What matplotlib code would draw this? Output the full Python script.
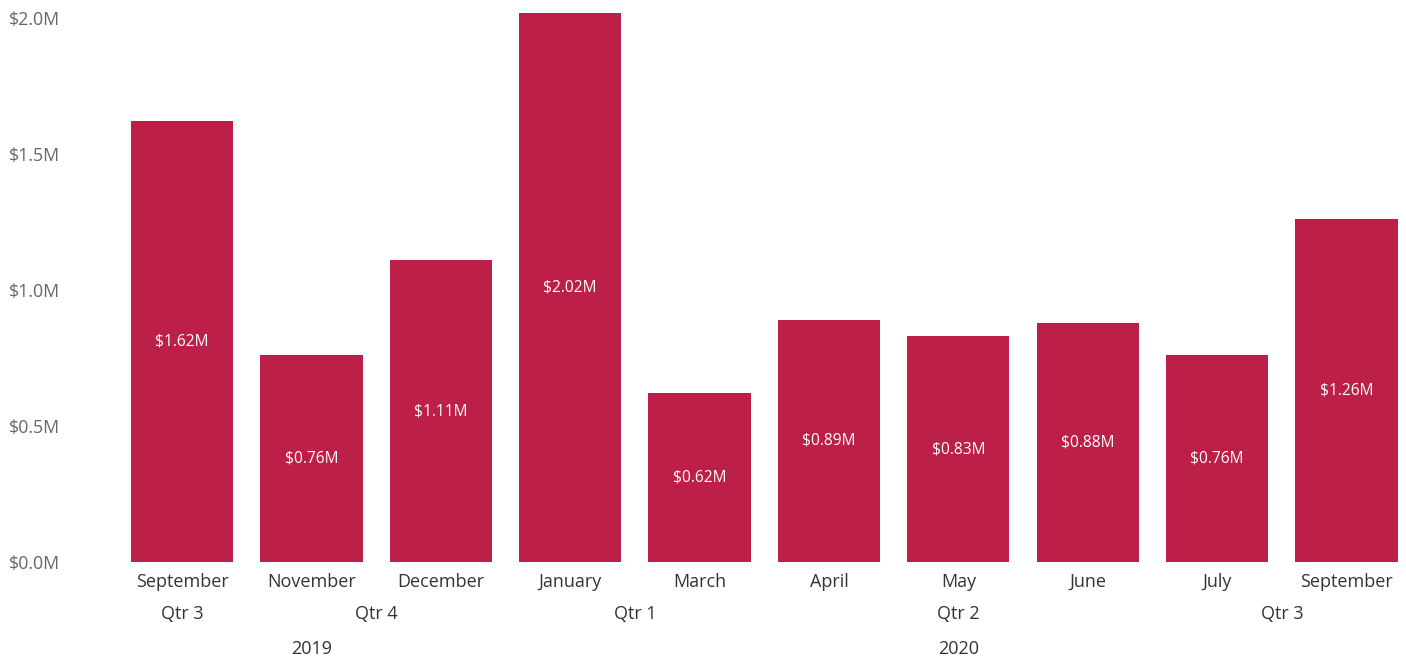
import matplotlib
matplotlib.use("Agg")
import matplotlib.pyplot as plt
import matplotlib.transforms as mtransforms
import numpy as np

months = ["September", "November", "December", "January", "March",
          "April", "May", "June", "July", "September"]
quarters = ["Qtr 3", "Qtr 4", "Qtr 4", "Qtr 1", "Qtr 1",
            "Qtr 2", "Qtr 2", "Qtr 2", "Qtr 3", "Qtr 3"]
years = ["2019", "2019", "2019", "2020", "2020",
         "2020", "2020", "2020", "2020", "2020"]
values = [1.62, 0.76, 1.11, 2.02, 0.62, 0.89, 0.83, 0.88, 0.76, 1.26]
y_ticks = [0.0, 0.5, 1.0, 1.5, 2.0]

plt.rcParams['font.family'] = ['Open Sans', 'DejaVu Sans']

W, H = 1406, 660
fig = plt.figure(figsize=(W / 100, H / 100), dpi=100)
ax = fig.add_axes([117.3 / W, 1 - 562 / H, (1404.8 - 117.3) / W, (562 - 4.4) / H])

bar_color = "#BC2049"
x = np.arange(len(values))
bars = ax.bar(x, values, width=0.79, color=bar_color)

for xi, v in zip(x, values):
    ax.text(xi, v / 2, f"${v:.2f}M", ha="center", va="center",
            color="white", fontsize=11.2)

ax.set_xlim(-0.5, 9.45)
ax.set_ylim(0, 2.05)
ax.set_yticks(y_ticks)
ax.set_yticklabels([f"${t:.1f}M" for t in y_ticks], color="#666666", fontsize=12.8)
ax.tick_params(axis="y", length=0, pad=78)
for lab in ax.get_yticklabels():
    lab.set_horizontalalignment("left")

ax.set_xticks(x)
ax.set_xticklabels(months, color="#333333", fontsize=13)
ax.tick_params(axis="x", length=0, pad=8)

for s in ax.spines.values():
    s.set_visible(False)

trans = mtransforms.blended_transform_factory(ax.transData, fig.transFigure)

def groups(labels, keys):
    out = []
    start = 0
    for i in range(1, len(labels) + 1):
        if i == len(labels) or keys[i] != keys[start]:
            out.append((labels[start], np.mean(x[start:i])))
            start = i
    return out

qkeys = [q + y for q, y in zip(quarters, years)]
for lab, pos in groups(quarters, qkeys):
    ax.text(pos, 1 - 614 / H, lab, transform=trans, ha="center", va="center",
            color="#333333", fontsize=13)
for lab, pos in groups(years, years):
    ax.text(pos, 1 - 649 / H, lab, transform=trans, ha="center", va="center",
            color="#333333", fontsize=13)

fig.savefig("out.png", dpi=100)
